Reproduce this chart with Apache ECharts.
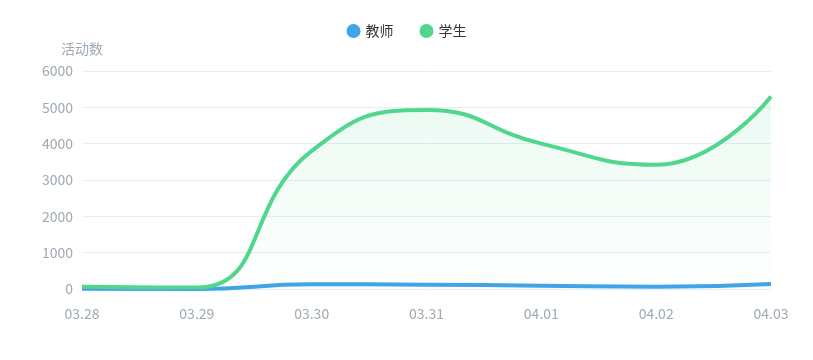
<!DOCTYPE html>
<html><head><meta charset="utf-8">
<script src="https://cdn.jsdelivr.net/npm/echarts@6/dist/echarts.min.js"></script>
<style>html,body{margin:0;padding:0;background:#fff}#c{width:813px;height:360px}</style>
</head><body><div id="c"></div>
<script>
const categories = ['03.28','03.29','03.30','03.31','04.01','04.02','04.03'];
const teacherValues = [10, 0, 130, 120, 90, 60, 140];
const studentValues = [60, 40, 3800, 4930, 4000, 3420, 5300];
const seriesNames = ['教师','学生'];
const font = '"Noto Sans CJK SC", "Noto Sans", sans-serif';
const chart = echarts.init(document.getElementById('c'));
chart.setOption({
  animation:false,
  textStyle:{fontFamily:font},
  color:['#3fa5e8','#50d68d'],
  legend:{top:19,left:'center',icon:'circle',itemWidth:14,itemHeight:14,itemGap:26,
    textStyle:{color:'#333',fontSize:14,fontFamily:font},data:seriesNames},
  grid:{left:82,right:42,top:71,bottom:71},
  xAxis:{type:'category',boundaryGap:false,data:categories,
    axisLine:{show:true,lineStyle:{color:'#e6edf3'}},axisTick:{show:false},
    axisLabel:{color:'#9ea9b4',fontSize:14,margin:18,fontFamily:font}},
  yAxis:{type:'value',min:0,max:6000,interval:1000,name:'活动数',nameGap:15,
    nameTextStyle:{color:'#9ea9b4',fontSize:14,padding:[0,0,0,0],fontFamily:font},
    axisLine:{show:false},axisTick:{show:false},
    axisLabel:{color:'#9ea9b4',fontSize:14,margin:9,fontFamily:font,formatter:function(v){return String(v);}},
    splitLine:{lineStyle:{color:'#e6edf3'}}},
  series:[
    {name:seriesNames[0],type:'line',smooth:true,showSymbol:false,data:teacherValues,
     lineStyle:{width:4,color:'#3fa5e8'},
     areaStyle:{color:new echarts.graphic.LinearGradient(0,0,0,1,[{offset:0,color:'rgba(63,165,232,0.15)'},{offset:1,color:'rgba(63,165,232,0)'}])}},
    {name:seriesNames[1],type:'line',smooth:true,showSymbol:false,data:studentValues,
     lineStyle:{width:4,color:'#50d68d'},
     areaStyle:{color:new echarts.graphic.LinearGradient(0,0,0,1,[{offset:0,color:'rgba(80,214,141,0.16)'},{offset:1,color:'rgba(80,214,141,0.01)'}])}}
  ]
});
</script></body></html>
